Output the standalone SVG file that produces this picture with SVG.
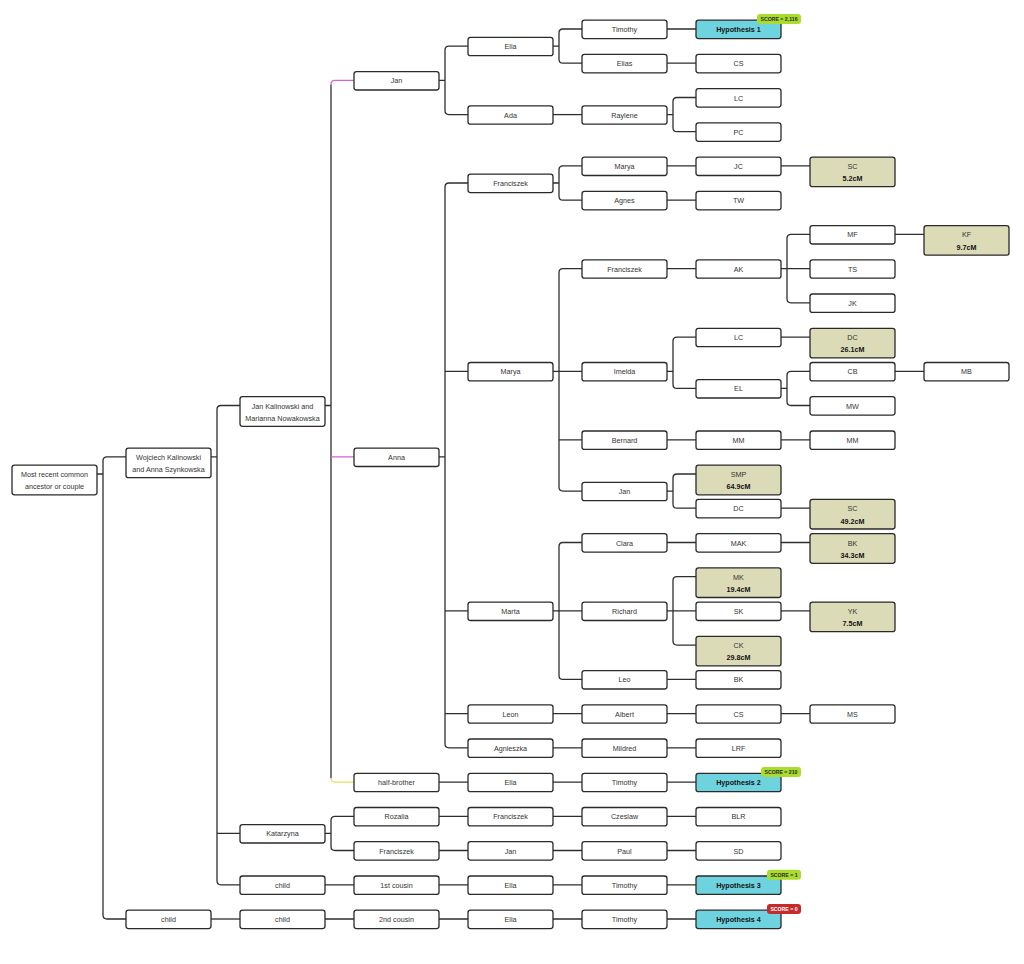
<svg xmlns="http://www.w3.org/2000/svg" width="1024" height="964" viewBox="0 0 1024 964">
<style>
.bx{fill:#fff;stroke:#2a2a2a;stroke-width:1.3}
.hy{fill:#6fd3df}
.cm{fill:#dcdbb8}
text{font-family:"Liberation Sans",Arial,sans-serif;font-size:7.2px;fill:#333;text-anchor:middle}
.b{font-weight:bold;fill:#111}
.cn{fill:none;stroke:#2e2e2e;stroke-width:1.3}
.mg{fill:none;stroke:#d860d8;stroke-width:1.3}
.yl{fill:none;stroke:#e4e45a;stroke-width:1.3}
.bg{fill:#a9dc2c}
.br{fill:#c62a2a}
.bt{font-size:5.2px;font-weight:bold;fill:#2a2a2a}
.btw{font-size:5.2px;font-weight:bold;fill:#fff}
</style>
<rect width="1024" height="964" fill="#fff"/>
<g id="connectors">
<path class="cn" d="M97,474H103M126,456.9H107Q103,456.9 103,460.9V915Q103,919 107,919H126"/>
<path class="cn" d="M211,456.9H217M240,405.5H221Q217,405.5 217,409.5V880.8Q217,884.8 221,884.8H240M217,833.4H240"/>
<path class="cn" d="M211,919H240"/>
<path class="cn" d="M325,405.5H331M331,84.4V778.1"/>
<path class="mg" d="M331,84.4Q331,80.4 335,80.4H354M331,456.9H354"/>
<path class="yl" d="M331,778.1Q331,782.1 335,782.1H354"/>
<path class="cn" d="M325,833.4H331M354,816.3H335Q331,816.3 331,820.3V846.5Q331,850.5 335,850.5H354"/>
<path class="cn" d="M325,884.8H354M325,919H354"/>
<path class="cn" d="M439,80.4H445M468,46.1H449Q445,46.1 445,50.1V110.6Q445,114.6 449,114.6H468"/>
<path class="cn" d="M439,456.9H445M468,183H449Q445,183 445,187V743.8Q445,747.8 449,747.8H468M445,371.3H468M445,610.9H468M445,713.6H468"/>
<path class="cn" d="M439,782.1H468M439,816.3H468M439,850.5H468M439,884.8H468M439,919H468"/>
<path class="cn" d="M553,46.1H559M582,29H563Q559,29 559,33V59.2Q559,63.2 563,63.2H582"/>
<path class="cn" d="M553,114.6H582"/>
<path class="cn" d="M553,183H559M582,165.9H563Q559,165.9 559,169.9V196.2Q559,200.2 563,200.2H582"/>
<path class="cn" d="M553,371.3H582M582,268.6H563Q559,268.6 559,272.6V487.1Q559,491.1 563,491.1H582M559,439.8H582"/>
<path class="cn" d="M553,610.9H582M582,542.5H563Q559,542.5 559,546.5V675.4Q559,679.4 563,679.4H582"/>
<path class="cn" d="M553,713.6H582M553,747.8H582M553,782.1H582M553,816.3H582M553,850.5H582M553,884.8H582M553,919H582"/>
<path class="cn" d="M667,29H696M667,63.2H696M667,165.9H696M667,200.2H696M667,268.6H696M667,439.8H696M667,542.5H696M667,679.4H696M667,713.6H696M667,747.8H696M667,782.1H696M667,816.3H696M667,850.5H696M667,884.8H696M667,919H696"/>
<path class="cn" d="M667,114.6H673M696,97.5H677Q673,97.5 673,101.5V127.7Q673,131.7 677,131.7H696"/>
<path class="cn" d="M667,371.3H673M696,337.1H677Q673,337.1 673,341.1V384.4Q673,388.4 677,388.4H696"/>
<path class="cn" d="M667,491.1H673M696,474H677Q673,474 673,478V504.2Q673,508.2 677,508.2H696"/>
<path class="cn" d="M667,610.9H696M696,576.7H677Q673,576.7 673,580.7V641.1Q673,645.1 677,645.1H696"/>
<path class="cn" d="M781,165.9H810M781,337.1H810M781,439.8H810M781,508.2H810M781,542.5H810M781,610.9H810M781,713.6H810"/>
<path class="cn" d="M781,268.6H810M810,234.4H791Q787,234.4 787,238.4V298.8Q787,302.8 791,302.8H810"/>
<path class="cn" d="M781,388.4H787M810,371.3H791Q787,371.3 787,375.3V401.5Q787,405.5 791,405.5H810"/>
<path class="cn" d="M895,234.4H924M895,371.3H924"/>
</g>
<!-- column 0 -->
<g id="n_root"><rect class="bx" x="12" y="465.2" width="85" height="29.6" rx="2.5"/><text x="54.5" y="477">Most recent common</text><text x="54.5" y="489.3">ancestor or couple</text></g>
<!-- column 1 -->
<g id="n_wojciech"><rect class="bx" x="126" y="448.1" width="85" height="29.6" rx="2.5"/><text x="168.5" y="459.9">Wojciech Kalinowski</text><text x="168.5" y="472.2">and Anna Szynkowska</text></g>
<g id="n_child1"><rect class="bx" x="126" y="910.2" width="85" height="18.4" rx="2.5"/><text x="168.5" y="922">child</text></g>
<!-- column 2 -->
<g id="n_jank"><rect class="bx" x="240" y="396.7" width="85" height="29.6" rx="2.5"/><text x="282.5" y="408.5">Jan Kalinowski and</text><text x="282.5" y="420.8">Marianna Nowakowska</text></g>
<g id="n_katarzyna"><rect class="bx" x="240" y="824.6" width="85" height="18.4" rx="2.5"/><text x="282.5" y="836.4">Katarzyna</text></g>
<g id="n_child2a"><rect class="bx" x="240" y="876" width="85" height="18.4" rx="2.5"/><text x="282.5" y="887.8">child</text></g>
<g id="n_child2b"><rect class="bx" x="240" y="910.2" width="85" height="18.4" rx="2.5"/><text x="282.5" y="922">child</text></g>
<!-- column 3 -->
<g id="n_jan3"><rect class="bx" x="354" y="71.6" width="85" height="18.4" rx="2.5"/><text x="396.5" y="83.4">Jan</text></g>
<g id="n_anna"><rect class="bx" x="354" y="448.1" width="85" height="18.4" rx="2.5"/><text x="396.5" y="459.9">Anna</text></g>
<g id="n_halfbrother"><rect class="bx" x="354" y="773.3" width="85" height="18.4" rx="2.5"/><text x="396.5" y="785.1">half-brother</text></g>
<g id="n_rozalia"><rect class="bx" x="354" y="807.5" width="85" height="18.4" rx="2.5"/><text x="396.5" y="819.3">Rozalia</text></g>
<g id="n_franciszek3"><rect class="bx" x="354" y="841.7" width="85" height="18.4" rx="2.5"/><text x="396.5" y="853.5">Franciszek</text></g>
<g id="n_cousin1"><rect class="bx" x="354" y="876" width="85" height="18.4" rx="2.5"/><text x="396.5" y="887.8">1st cousin</text></g>
<g id="n_cousin2"><rect class="bx" x="354" y="910.2" width="85" height="18.4" rx="2.5"/><text x="396.5" y="922">2nd cousin</text></g>
<!-- column 4 -->
<g id="n_ella4a"><rect class="bx" x="468" y="37.3" width="85" height="18.4" rx="2.5"/><text x="510.5" y="49.1">Ella</text></g>
<g id="n_ada"><rect class="bx" x="468" y="105.8" width="85" height="18.4" rx="2.5"/><text x="510.5" y="117.6">Ada</text></g>
<g id="n_franciszek4a"><rect class="bx" x="468" y="174.2" width="85" height="18.4" rx="2.5"/><text x="510.5" y="186">Franciszek</text></g>
<g id="n_marya4"><rect class="bx" x="468" y="362.5" width="85" height="18.4" rx="2.5"/><text x="510.5" y="374.3">Marya</text></g>
<g id="n_marta"><rect class="bx" x="468" y="602.1" width="85" height="18.4" rx="2.5"/><text x="510.5" y="613.9">Marta</text></g>
<g id="n_leon"><rect class="bx" x="468" y="704.8" width="85" height="18.4" rx="2.5"/><text x="510.5" y="716.6">Leon</text></g>
<g id="n_agnieszka"><rect class="bx" x="468" y="739" width="85" height="18.4" rx="2.5"/><text x="510.5" y="750.8">Agnieszka</text></g>
<g id="n_ella4b"><rect class="bx" x="468" y="773.3" width="85" height="18.4" rx="2.5"/><text x="510.5" y="785.1">Ella</text></g>
<g id="n_franciszek4b"><rect class="bx" x="468" y="807.5" width="85" height="18.4" rx="2.5"/><text x="510.5" y="819.3">Franciszek</text></g>
<g id="n_jan4"><rect class="bx" x="468" y="841.7" width="85" height="18.4" rx="2.5"/><text x="510.5" y="853.5">Jan</text></g>
<g id="n_ella4c"><rect class="bx" x="468" y="876" width="85" height="18.4" rx="2.5"/><text x="510.5" y="887.8">Ella</text></g>
<g id="n_ella4d"><rect class="bx" x="468" y="910.2" width="85" height="18.4" rx="2.5"/><text x="510.5" y="922">Ella</text></g>
<!-- column 5 -->
<g id="n_timothy5a"><rect class="bx" x="582" y="20.2" width="85" height="18.4" rx="2.5"/><text x="624.5" y="32">Timothy</text></g>
<g id="n_elias"><rect class="bx" x="582" y="54.4" width="85" height="18.4" rx="2.5"/><text x="624.5" y="66.2">Elias</text></g>
<g id="n_raylene"><rect class="bx" x="582" y="105.8" width="85" height="18.4" rx="2.5"/><text x="624.5" y="117.6">Raylene</text></g>
<g id="n_marya5"><rect class="bx" x="582" y="157.1" width="85" height="18.4" rx="2.5"/><text x="624.5" y="168.9">Marya</text></g>
<g id="n_agnes"><rect class="bx" x="582" y="191.4" width="85" height="18.4" rx="2.5"/><text x="624.5" y="203.2">Agnes</text></g>
<g id="n_franciszek5"><rect class="bx" x="582" y="259.8" width="85" height="18.4" rx="2.5"/><text x="624.5" y="271.6">Franciszek</text></g>
<g id="n_imelda"><rect class="bx" x="582" y="362.5" width="85" height="18.4" rx="2.5"/><text x="624.5" y="374.3">Imelda</text></g>
<g id="n_bernard"><rect class="bx" x="582" y="431" width="85" height="18.4" rx="2.5"/><text x="624.5" y="442.8">Bernard</text></g>
<g id="n_jan5"><rect class="bx" x="582" y="482.3" width="85" height="18.4" rx="2.5"/><text x="624.5" y="494.1">Jan</text></g>
<g id="n_clara"><rect class="bx" x="582" y="533.7" width="85" height="18.4" rx="2.5"/><text x="624.5" y="545.5">Clara</text></g>
<g id="n_richard"><rect class="bx" x="582" y="602.1" width="85" height="18.4" rx="2.5"/><text x="624.5" y="613.9">Richard</text></g>
<g id="n_leo"><rect class="bx" x="582" y="670.6" width="85" height="18.4" rx="2.5"/><text x="624.5" y="682.4">Leo</text></g>
<g id="n_albert"><rect class="bx" x="582" y="704.8" width="85" height="18.4" rx="2.5"/><text x="624.5" y="716.6">Albert</text></g>
<g id="n_mildred"><rect class="bx" x="582" y="739" width="85" height="18.4" rx="2.5"/><text x="624.5" y="750.8">Mildred</text></g>
<g id="n_timothy5b"><rect class="bx" x="582" y="773.3" width="85" height="18.4" rx="2.5"/><text x="624.5" y="785.1">Timothy</text></g>
<g id="n_czeslaw"><rect class="bx" x="582" y="807.5" width="85" height="18.4" rx="2.5"/><text x="624.5" y="819.3">Czeslaw</text></g>
<g id="n_paul"><rect class="bx" x="582" y="841.7" width="85" height="18.4" rx="2.5"/><text x="624.5" y="853.5">Paul</text></g>
<g id="n_timothy5c"><rect class="bx" x="582" y="876" width="85" height="18.4" rx="2.5"/><text x="624.5" y="887.8">Timothy</text></g>
<g id="n_timothy5d"><rect class="bx" x="582" y="910.2" width="85" height="18.4" rx="2.5"/><text x="624.5" y="922">Timothy</text></g>
<!-- column 6 -->
<g id="n_hyp1"><rect class="bx hy" x="696" y="20.2" width="85" height="18.4" rx="2.5"/><text class="b" x="738.5" y="32">Hypothesis 1</text><rect class="bg" x="757" y="14" width="44" height="10" rx="3"/><text class="bt" x="779" y="20.9">SCORE = 2,116</text></g>
<g id="n_cs6a"><rect class="bx" x="696" y="54.4" width="85" height="18.4" rx="2.5"/><text x="738.5" y="66.2">CS</text></g>
<g id="n_lc6a"><rect class="bx" x="696" y="88.7" width="85" height="18.4" rx="2.5"/><text x="738.5" y="100.5">LC</text></g>
<g id="n_pc"><rect class="bx" x="696" y="122.9" width="85" height="18.4" rx="2.5"/><text x="738.5" y="134.7">PC</text></g>
<g id="n_jc"><rect class="bx" x="696" y="157.1" width="85" height="18.4" rx="2.5"/><text x="738.5" y="168.9">JC</text></g>
<g id="n_tw"><rect class="bx" x="696" y="191.4" width="85" height="18.4" rx="2.5"/><text x="738.5" y="203.2">TW</text></g>
<g id="n_ak"><rect class="bx" x="696" y="259.8" width="85" height="18.4" rx="2.5"/><text x="738.5" y="271.6">AK</text></g>
<g id="n_lc6b"><rect class="bx" x="696" y="328.3" width="85" height="18.4" rx="2.5"/><text x="738.5" y="340.1">LC</text></g>
<g id="n_el"><rect class="bx" x="696" y="379.6" width="85" height="18.4" rx="2.5"/><text x="738.5" y="391.4">EL</text></g>
<g id="n_mm6"><rect class="bx" x="696" y="431" width="85" height="18.4" rx="2.5"/><text x="738.5" y="442.8">MM</text></g>
<g id="n_smp"><rect class="bx cm" x="696" y="465.2" width="85" height="29.6" rx="2.5"/><text x="738.5" y="477">SMP</text><text class="b" x="738.5" y="489.3">64.9cM</text></g>
<g id="n_dc6"><rect class="bx" x="696" y="499.4" width="85" height="18.4" rx="2.5"/><text x="738.5" y="511.2">DC</text></g>
<g id="n_mak"><rect class="bx" x="696" y="533.7" width="85" height="18.4" rx="2.5"/><text x="738.5" y="545.5">MAK</text></g>
<g id="n_mk"><rect class="bx cm" x="696" y="567.9" width="85" height="29.6" rx="2.5"/><text x="738.5" y="579.7">MK</text><text class="b" x="738.5" y="592">19.4cM</text></g>
<g id="n_sk"><rect class="bx" x="696" y="602.1" width="85" height="18.4" rx="2.5"/><text x="738.5" y="613.9">SK</text></g>
<g id="n_ck"><rect class="bx cm" x="696" y="636.3" width="85" height="29.6" rx="2.5"/><text x="738.5" y="648.1">CK</text><text class="b" x="738.5" y="660.4">29.8cM</text></g>
<g id="n_bk6"><rect class="bx" x="696" y="670.6" width="85" height="18.4" rx="2.5"/><text x="738.5" y="682.4">BK</text></g>
<g id="n_cs6b"><rect class="bx" x="696" y="704.8" width="85" height="18.4" rx="2.5"/><text x="738.5" y="716.6">CS</text></g>
<g id="n_lrf"><rect class="bx" x="696" y="739" width="85" height="18.4" rx="2.5"/><text x="738.5" y="750.8">LRF</text></g>
<g id="n_hyp2"><rect class="bx hy" x="696" y="773.3" width="85" height="18.4" rx="2.5"/><text class="b" x="738.5" y="785.1">Hypothesis 2</text><rect class="bg" x="761" y="767.1" width="40" height="10" rx="3"/><text class="bt" x="781" y="774">SCORE = 210</text></g>
<g id="n_blr"><rect class="bx" x="696" y="807.5" width="85" height="18.4" rx="2.5"/><text x="738.5" y="819.3">BLR</text></g>
<g id="n_sd"><rect class="bx" x="696" y="841.7" width="85" height="18.4" rx="2.5"/><text x="738.5" y="853.5">SD</text></g>
<g id="n_hyp3"><rect class="bx hy" x="696" y="876" width="85" height="18.4" rx="2.5"/><text class="b" x="738.5" y="887.8">Hypothesis 3</text><rect class="bg" x="767" y="869.8" width="34" height="10" rx="3"/><text class="bt" x="784" y="876.7">SCORE = 1</text></g>
<g id="n_hyp4"><rect class="bx hy" x="696" y="910.2" width="85" height="18.4" rx="2.5"/><text class="b" x="738.5" y="922">Hypothesis 4</text><rect class="br" x="767" y="904" width="34" height="10" rx="3"/><text class="btw" x="784" y="910.9">SCORE = 0</text></g>
<!-- column 7 -->
<g id="n_sc7a"><rect class="bx cm" x="810" y="157.1" width="85" height="29.6" rx="2.5"/><text x="852.5" y="168.9">SC</text><text class="b" x="852.5" y="181.2">5.2cM</text></g>
<g id="n_mf"><rect class="bx" x="810" y="225.6" width="85" height="18.4" rx="2.5"/><text x="852.5" y="237.4">MF</text></g>
<g id="n_ts"><rect class="bx" x="810" y="259.8" width="85" height="18.4" rx="2.5"/><text x="852.5" y="271.6">TS</text></g>
<g id="n_jk"><rect class="bx" x="810" y="294" width="85" height="18.4" rx="2.5"/><text x="852.5" y="305.8">JK</text></g>
<g id="n_dc7"><rect class="bx cm" x="810" y="328.3" width="85" height="29.6" rx="2.5"/><text x="852.5" y="340.1">DC</text><text class="b" x="852.5" y="352.4">26.1cM</text></g>
<g id="n_cb"><rect class="bx" x="810" y="362.5" width="85" height="18.4" rx="2.5"/><text x="852.5" y="374.3">CB</text></g>
<g id="n_mw"><rect class="bx" x="810" y="396.7" width="85" height="18.4" rx="2.5"/><text x="852.5" y="408.5">MW</text></g>
<g id="n_mm7"><rect class="bx" x="810" y="431" width="85" height="18.4" rx="2.5"/><text x="852.5" y="442.8">MM</text></g>
<g id="n_sc7b"><rect class="bx cm" x="810" y="499.4" width="85" height="29.6" rx="2.5"/><text x="852.5" y="511.2">SC</text><text class="b" x="852.5" y="523.5">49.2cM</text></g>
<g id="n_bk7"><rect class="bx cm" x="810" y="533.7" width="85" height="29.6" rx="2.5"/><text x="852.5" y="545.5">BK</text><text class="b" x="852.5" y="557.8">34.3cM</text></g>
<g id="n_yk"><rect class="bx cm" x="810" y="602.1" width="85" height="29.6" rx="2.5"/><text x="852.5" y="613.9">YK</text><text class="b" x="852.5" y="626.2">7.5cM</text></g>
<g id="n_ms"><rect class="bx" x="810" y="704.8" width="85" height="18.4" rx="2.5"/><text x="852.5" y="716.6">MS</text></g>
<!-- column 8 -->
<g id="n_kf"><rect class="bx cm" x="924" y="225.6" width="85" height="29.6" rx="2.5"/><text x="966.5" y="237.4">KF</text><text class="b" x="966.5" y="249.7">9.7cM</text></g>
<g id="n_mb"><rect class="bx" x="924" y="362.5" width="85" height="18.4" rx="2.5"/><text x="966.5" y="374.3">MB</text></g>
</svg>
